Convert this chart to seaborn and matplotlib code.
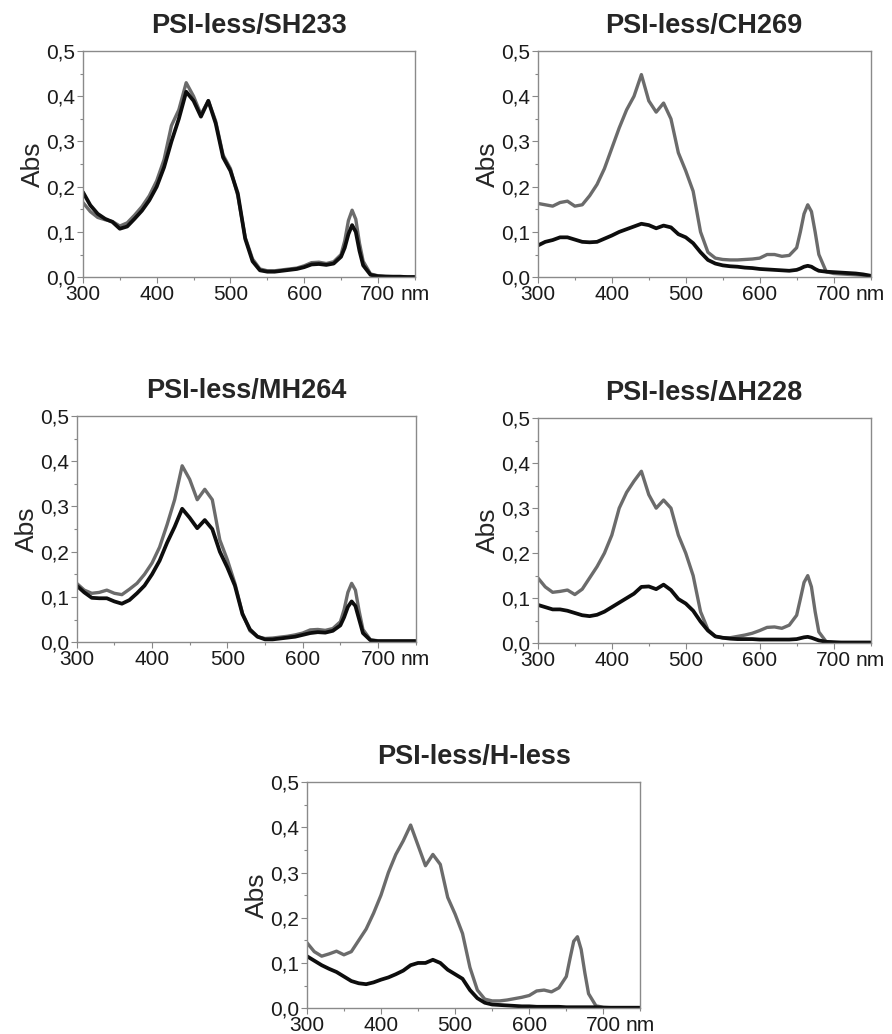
import numpy as np
import pandas as pd
import matplotlib
matplotlib.use('Agg')
import matplotlib.pyplot as plt
import matplotlib.ticker as mticker
import seaborn as sns

# Lunghezze d'onda (nm)
wl = [300, 310, 320, 330, 340, 350, 360, 370, 380, 390,
      400, 410, 420, 430, 440, 450, 460, 470, 480, 490,
      500, 510, 520, 530, 540, 550, 560, 570, 580, 590,
      600, 610, 620, 630, 640,
      650, 655, 660, 665, 670, 675, 680,
      690, 700, 710, 720, 730, 740, 750]

# PSI-less/SH233
sh233_gray = [0.165, 0.145, 0.132, 0.127, 0.123, 0.113, 0.120, 0.137, 0.156, 0.180,
              0.213, 0.260, 0.335, 0.370, 0.430, 0.400, 0.360, 0.390, 0.345, 0.270,
              0.240, 0.180, 0.088, 0.040, 0.018, 0.014, 0.014, 0.016, 0.018, 0.020,
              0.025, 0.032, 0.033, 0.030, 0.034,
              0.050, 0.080, 0.125, 0.148, 0.128, 0.075, 0.035,
              0.007, 0.003, 0.002, 0.001, 0.001, 0.001, 0.001]
sh233_black = [0.188, 0.159, 0.140, 0.129, 0.122, 0.107, 0.112, 0.129, 0.147, 0.170,
               0.200, 0.243, 0.300, 0.350, 0.410, 0.390, 0.355, 0.390, 0.340, 0.265,
               0.235, 0.185, 0.085, 0.035, 0.015, 0.012, 0.012, 0.014, 0.016, 0.018,
               0.022, 0.028, 0.029, 0.027, 0.030,
               0.045, 0.065, 0.095, 0.115, 0.100, 0.058, 0.026,
               0.005, 0.002, 0.001, 0.001, 0.001, 0.000, 0.000]

# PSI-less/CH269
ch269_gray = [0.163, 0.160, 0.157, 0.165, 0.168, 0.157, 0.160, 0.180, 0.205, 0.240,
              0.285, 0.330, 0.370, 0.400, 0.448, 0.390, 0.365, 0.385, 0.350, 0.275,
              0.235, 0.190, 0.100, 0.055, 0.042, 0.039, 0.038, 0.038, 0.039, 0.040,
              0.042, 0.050, 0.050, 0.046, 0.048,
              0.065, 0.100, 0.140, 0.160, 0.145, 0.100, 0.050,
              0.012, 0.008, 0.007, 0.006, 0.005, 0.004, 0.003]
ch269_black = [0.070, 0.078, 0.082, 0.088, 0.088, 0.083, 0.078, 0.077, 0.078, 0.085,
               0.092, 0.100, 0.106, 0.112, 0.118, 0.115, 0.108, 0.114, 0.110, 0.095,
               0.088, 0.075, 0.055, 0.038, 0.030, 0.026, 0.024, 0.023, 0.021, 0.020,
               0.018, 0.017, 0.016, 0.015, 0.014,
               0.016, 0.019, 0.023, 0.025, 0.023, 0.018, 0.014,
               0.012, 0.011, 0.010, 0.009, 0.008, 0.006, 0.003]

# PSI-less/MH264
mh264_gray = [0.130, 0.115, 0.108, 0.110, 0.115, 0.108, 0.105, 0.117, 0.130, 0.150,
              0.175, 0.210, 0.260, 0.315, 0.390, 0.360, 0.315, 0.338, 0.315, 0.226,
              0.182, 0.130, 0.064, 0.025, 0.012, 0.008, 0.009, 0.011, 0.013, 0.016,
              0.020, 0.027, 0.028, 0.026, 0.030,
              0.045, 0.072, 0.110, 0.130, 0.115, 0.068, 0.028,
              0.005, 0.003, 0.003, 0.003, 0.003, 0.003, 0.003]
mh264_black = [0.125, 0.110, 0.098, 0.097, 0.097, 0.090, 0.085, 0.093, 0.108, 0.125,
               0.150, 0.180, 0.220, 0.255, 0.295, 0.275, 0.252, 0.270, 0.250, 0.200,
               0.165, 0.125, 0.062, 0.028, 0.012, 0.006, 0.006, 0.008, 0.010, 0.012,
               0.016, 0.020, 0.022, 0.021, 0.025,
               0.037, 0.055, 0.078, 0.090, 0.080, 0.050, 0.020,
               0.004, 0.002, 0.002, 0.002, 0.002, 0.002, 0.002]

# PSI-less/dH228
dh228_gray = [0.145, 0.125, 0.113, 0.115, 0.118, 0.108, 0.120, 0.145, 0.170, 0.200,
              0.240, 0.300, 0.335, 0.360, 0.382, 0.330, 0.300, 0.318, 0.300, 0.240,
              0.200, 0.150, 0.070, 0.030, 0.015, 0.012, 0.012, 0.015, 0.018, 0.022,
              0.028, 0.035, 0.036, 0.033, 0.040,
              0.062, 0.098, 0.135, 0.150, 0.125, 0.070, 0.025,
              0.003, 0.002, 0.002, 0.002, 0.002, 0.002, 0.002]
dh228_black = [0.085, 0.080, 0.075, 0.075, 0.072, 0.067, 0.062, 0.060, 0.063, 0.070,
               0.080, 0.090, 0.100, 0.110, 0.125, 0.126, 0.120, 0.130, 0.118, 0.098,
               0.088, 0.072, 0.048, 0.028, 0.015, 0.012, 0.010, 0.009, 0.009, 0.009,
               0.008, 0.008, 0.008, 0.008, 0.008,
               0.009, 0.011, 0.013, 0.014, 0.012, 0.009, 0.006,
               0.003, 0.002, 0.001, 0.001, 0.001, 0.001, 0.001]

# PSI-less/H-less
hless_gray = [0.145, 0.125, 0.115, 0.120, 0.126, 0.118, 0.125, 0.150, 0.175, 0.210,
              0.250, 0.300, 0.340, 0.370, 0.405, 0.360, 0.315, 0.340, 0.318, 0.245,
              0.208, 0.165, 0.090, 0.040, 0.020, 0.016, 0.016, 0.018, 0.021, 0.024,
              0.028, 0.038, 0.040, 0.036, 0.045,
              0.070, 0.110, 0.148, 0.158, 0.130, 0.078, 0.032,
              0.005, 0.002, 0.001, 0.001, 0.001, 0.001, 0.001]
hless_black = [0.115, 0.105, 0.095, 0.087, 0.080, 0.070, 0.060, 0.055, 0.053, 0.057,
               0.063, 0.068, 0.075, 0.083, 0.095, 0.100, 0.100, 0.107, 0.100, 0.085,
               0.075, 0.065, 0.040, 0.022, 0.012, 0.008, 0.007, 0.006, 0.005, 0.004,
               0.004, 0.003, 0.003, 0.003, 0.003,
               0.002, 0.002, 0.002, 0.002, 0.002, 0.002, 0.002,
               0.002, 0.001, 0.001, 0.001, 0.001, 0.001, 0.001]

titles = ['PSI-less/SH233', 'PSI-less/CH269', 'PSI-less/MH264',
          'PSI-less/\u0394H228', 'PSI-less/H-less']
series = [(sh233_gray, sh233_black), (ch269_gray, ch269_black),
          (mh264_gray, mh264_black), (dh228_gray, dh228_black),
          (hless_gray, hless_black)]

# posizioni degli assi [left, bottom, width, height]
boxes = [[0.093, 0.732, 0.372, 0.2186],
         [0.603, 0.732, 0.373, 0.2186],
         [0.086, 0.379, 0.380, 0.2186],
         [0.603, 0.378, 0.373, 0.2176],
         [0.344, 0.025, 0.374, 0.2186]]

sns.set_style('white')
plt.rcParams['font.family'] = ['Liberation Sans', 'DejaVu Sans']

fig = plt.figure(figsize=(8.92, 10.34), dpi=100)

for title, (g, b), box in zip(titles, series, boxes):
    ax = fig.add_axes(box)
    df = pd.DataFrame({
        'nm': wl * 2,
        'Abs': g + b,
        'curve': ['gray'] * len(wl) + ['black'] * len(wl),
    })
    sns.lineplot(data=df, x='nm', y='Abs', hue='curve',
                 palette={'gray': '#6b6b6b', 'black': '#0d0d0d'},
                 ax=ax, legend=False, estimator=None)
    lines = ax.get_lines()
    lines[0].set_linewidth(2.4)
    lines[1].set_linewidth(2.7)
    for ln in lines:
        ln.set_solid_joinstyle('round')
    ax.set_xlim(300, 750)
    ax.set_ylim(0, 0.5)
    ax.set_title(title, fontsize=19.5, fontweight='bold', pad=13)
    ax.set_xlabel('')
    ax.set_ylabel('Abs', fontsize=19, labelpad=1)
    ax.xaxis.set_major_locator(mticker.FixedLocator([300, 400, 500, 600, 700]))
    ax.xaxis.set_minor_locator(mticker.MultipleLocator(50))
    ax.yaxis.set_major_locator(mticker.MultipleLocator(0.1))
    ax.yaxis.set_minor_locator(mticker.MultipleLocator(0.05))
    ax.yaxis.set_major_formatter(
        mticker.FuncFormatter(lambda v, p: f'{v:.1f}'.replace('.', ',')))
    ax.tick_params(which='major', length=4, width=0.8, color='#888888',
                   labelsize=15, labelcolor='#1a1a1a', pad=1.5)
    ax.tick_params(which='minor', length=2.5, width=0.8, color='#888888')
    ax.tick_params(axis='both', which='both', direction='out',
                   bottom=True, left=True)
    for s in ax.spines.values():
        s.set_color('#8a8a8a')
        s.set_linewidth(1.0)
    # unita' di misura accanto a 700
    ax.annotate('nm', xy=(700, 0), xycoords=('data', 'axes fraction'),
                xytext=(16, -5.5), textcoords='offset points',
                ha='left', va='top', fontsize=15, color='#1a1a1a',
                annotation_clip=False)

plt.savefig('out.png', dpi=100)
